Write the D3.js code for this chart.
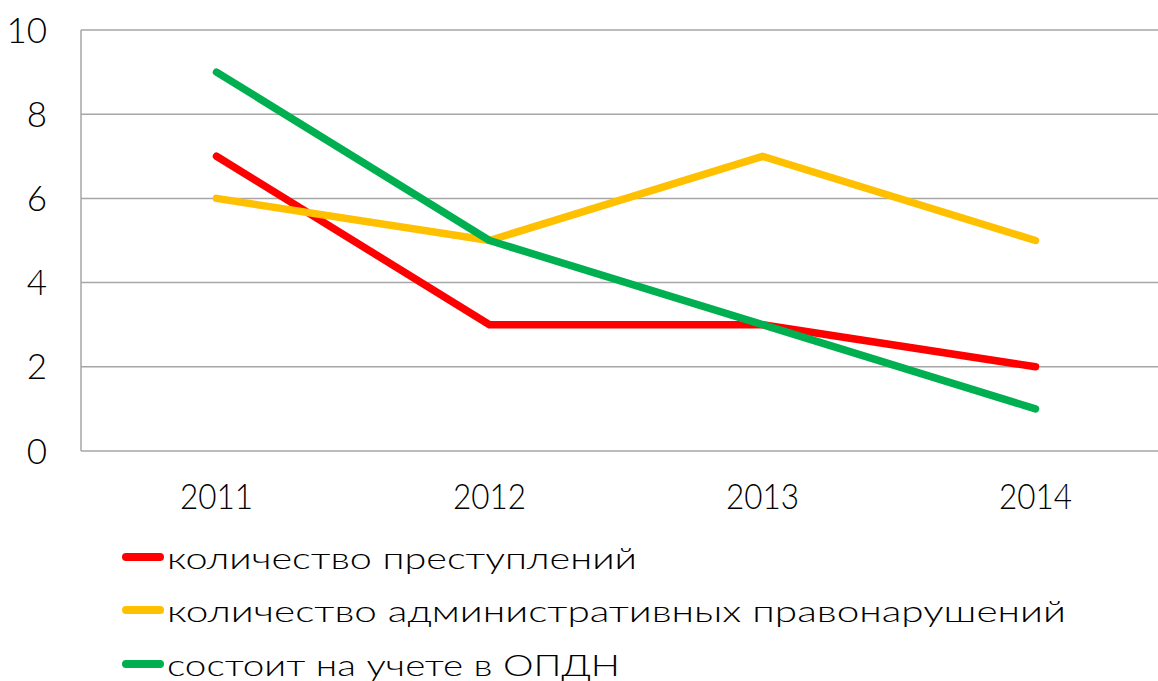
<!DOCTYPE html>
<html><head><meta charset="utf-8">
<script src="https://cdn.jsdelivr.net/npm/d3@7"></script>
<style>body{margin:0;background:#fff}svg{display:block}</style>
</head><body>
<script>
const categories = ["2011","2012","2013","2014"];
const seriesNames = ["количество преступлений","количество административных правонарушений","состоит на учете в ОПДН"];
const crimes = [7,3,3,2];
const adminOffenses = [6,5,7,5];
const registered = [9,5,3,1];
const yTicks = [0,2,4,6,8,10];
const colors = ["#ff0000","#ffc000","#00b050"];
const series = [crimes, adminOffenses, registered];

const W=1158,H=681;
const svg=d3.select("body").append("svg").attr("width",W).attr("height",H);
const padL=81, padT=30, padB=451, bandW=273;
const x=d3.scaleBand().domain(categories).range([padL,padL+bandW*4]).padding(0);
const y=d3.scaleLinear().domain([0,10]).range([padB,padT]);
const font="'Lato','DejaVu Sans',sans-serif";

// gridlines
svg.append("g").selectAll("line").data(yTicks).join("line")
  .attr("x1",padL).attr("x2",W).attr("y1",d=>y(d)).attr("y2",d=>y(d))
  .attr("stroke","#a6a6a6").attr("stroke-width",1.5);
svg.append("line").attr("x1",padL).attr("x2",padL).attr("y1",y(10)).attr("y2",y(0))
  .attr("stroke","#a6a6a6").attr("stroke-width",1.5);

// y labels
svg.append("g").selectAll("text").data(yTicks).join("text")
  .attr("x",47).attr("y",d=>y(d)).attr("dy","0.36em").attr("text-anchor","end")
  .attr("font-family",font).attr("font-weight",300).attr("font-size",35).attr("fill","#000").text(d=>d);
// x labels
svg.append("g").selectAll("text").data(categories).join("text")
  .attr("x",d=>x(d)+x.bandwidth()/2-1).attr("y",509).attr("text-anchor","middle")
  .attr("font-family",font).attr("font-weight",300).attr("font-size",35).attr("fill","#000")
  .attr("textLength",73).attr("lengthAdjust","spacingAndGlyphs").text(d=>d);

const line=d3.line().x((d,i)=>x(categories[i])+x.bandwidth()/2-1).y(d=>y(d));
svg.append("g").selectAll("path").data(series).join("path")
  .attr("d",d=>line(d)).attr("fill","none").attr("stroke",(d,i)=>colors[i])
  .attr("stroke-width",7.5).attr("stroke-linecap","round").attr("stroke-linejoin","round");

// legend
const legY=[557,610,664], legW=[470,899,453];
const lg=svg.append("g").selectAll("g").data(seriesNames).join("g");
lg.append("line").attr("x1",126).attr("x2",160).attr("y1",(d,i)=>legY[i]).attr("y2",(d,i)=>legY[i])
  .attr("stroke",(d,i)=>colors[i]).attr("stroke-width",8).attr("stroke-linecap","round");
lg.append("text").attr("x",167).attr("y",(d,i)=>legY[i]+12)
  .attr("font-family",font).attr("font-weight",300).attr("font-size",30).attr("fill","#000")
  .attr("textLength",(d,i)=>legW[i]).attr("lengthAdjust","spacingAndGlyphs").text(d=>d);
</script>
</body></html>
